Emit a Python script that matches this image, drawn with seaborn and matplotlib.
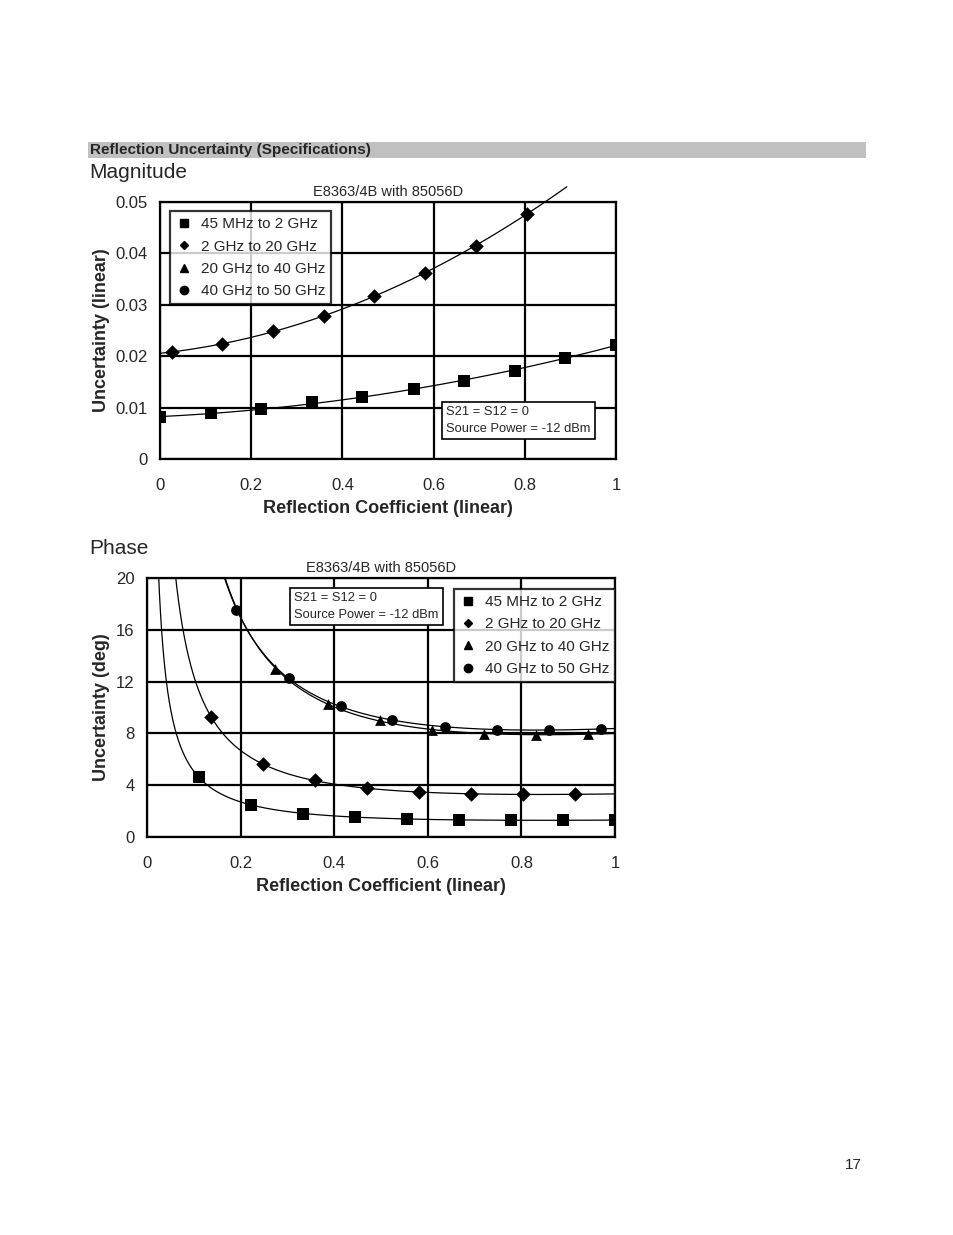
import numpy as np
import pandas as pd
import matplotlib
matplotlib.use("Agg")
import matplotlib.pyplot as plt
from matplotlib.patches import Rectangle
from matplotlib.lines import Line2D
import seaborn as sns

# ---------------- data ----------------
series_labels = ["45 MHz to 2 GHz", "2 GHz to 20 GHz", "20 GHz to 40 GHz", "40 GHz to 50 GHz"]
series_markers = ["s", "D", "^", "o"]

# Magnitude chart
mag_x_sq = [0.0, 0.111, 0.222, 0.333, 0.444, 0.556, 0.667, 0.778, 0.889, 1.0]
mag_y_sq = [0.0081, 0.0089, 0.0097, 0.0110, 0.0121, 0.0136, 0.0151, 0.0172, 0.0197, 0.0222]
mag_x_di = [0.026, 0.137, 0.248, 0.359, 0.470, 0.581, 0.693, 0.804]
mag_y_di = [0.0208, 0.0224, 0.0249, 0.0278, 0.0317, 0.0362, 0.0415, 0.0477]

# Phase chart
ph_x_sq = [0.111, 0.222, 0.333, 0.444, 0.556, 0.667, 0.778, 0.889, 1.0]
ph_y_sq = [4.6, 2.5, 1.8, 1.55, 1.4, 1.3, 1.3, 1.3, 1.3]
ph_x_di = [0.136, 0.248, 0.359, 0.470, 0.581, 0.693, 0.804, 0.915]
ph_y_di = [9.3, 5.6, 4.4, 3.8, 3.45, 3.3, 3.3, 3.3]
ph_x_tr = [0.274, 0.386, 0.497, 0.609, 0.720, 0.831, 0.943]
ph_y_tr = [13.0, 10.3, 9.0, 8.3, 7.95, 7.9, 7.95]
ph_x_ci = [0.191, 0.304, 0.414, 0.524, 0.636, 0.747, 0.859, 0.970]
ph_y_ci = [17.5, 12.3, 10.1, 9.0, 8.5, 8.3, 8.25, 8.35]

x_ticks = [0, 0.2, 0.4, 0.6, 0.8, 1]
x_ticklabels = ["0", "0.2", "0.4", "0.6", "0.8", "1"]
mag_ticks = [0, 0.01, 0.02, 0.03, 0.04, 0.05]
mag_ticklabels = ["0", "0.01", "0.02", "0.03", "0.04", "0.05"]
ph_ticks = [0, 4, 8, 12, 16, 20]
ph_ticklabels = ["0", "4", "8", "12", "16", "20"]

chart_title = "E8363/4B with 85056D"
note_text = "S21 = S12 = 0\nSource Power = -12 dBm"

# ---------------- style ----------------
sns.set_theme(style="white")
plt.rcParams["font.family"] = ["Liberation Sans", "DejaVu Sans"]
plt.rcParams["axes.edgecolor"] = "black"
plt.rcParams["axes.linewidth"] = 1.6

fig = plt.figure(figsize=(9.54, 12.35), dpi=100)
W, H = 954, 1235


def fig_axes(left, top, right, bottom):
    return fig.add_axes([left / W, 1 - bottom / H, (right - left) / W, (bottom - top) / H])


ax1 = fig_axes(160, 202, 616, 459)
ax2 = fig_axes(147, 578, 615, 837)

msizes = {"s": 75, "D": 55, "^": 60, "o": 60}


def scatter(ax, xs, ys, m):
    df = pd.DataFrame({"x": xs, "y": ys})
    sns.scatterplot(data=df, x="x", y="y", ax=ax, marker=m, color="black",
                    s=msizes[m], edgecolor="black", linewidth=0, zorder=4, legend=False)


# ---- magnitude chart ----
xx = np.linspace(0, 1, 400)
for xs, ys, m, extend in [(mag_x_sq, mag_y_sq, "s", False), (mag_x_di, mag_y_di, "D", True)]:
    c = np.polyfit(xs, ys, 2)
    yy = np.polyval(c, xx)
    keep = yy <= 0.053
    ax1.plot(xx[keep], yy[keep], color="black", lw=0.9, zorder=3, clip_on=not extend)
    scatter(ax1, xs, ys, m)

# ---- phase chart: fit x*sin(phase) as quadratic in x ----
xx2 = np.linspace(0.004, 1, 800)
for xs, ys, m in [(ph_x_sq, ph_y_sq, "s"), (ph_x_di, ph_y_di, "D"),
                  (ph_x_tr, ph_y_tr, "^"), (ph_x_ci, ph_y_ci, "o")]:
    xs_a = np.array(xs)
    c = np.polyfit(xs_a, xs_a * np.sin(np.radians(ys)), 2)
    r = np.clip(np.polyval(c, xx2) / xx2, -1, 1)
    yy = np.degrees(np.arcsin(r))
    ax2.plot(xx2, yy, color="black", lw=0.9, zorder=3)
    scatter(ax2, xs, ys, m)

tick_font = dict(fontsize=12)
for ax, yt, ytl, ylim, ylabel in [(ax1, mag_ticks, mag_ticklabels, (0, 0.05), "Uncertainty (linear)"),
                                  (ax2, ph_ticks, ph_ticklabels, (0, 20), "Uncertainty (deg)")]:
    ax.set_xlim(0, 1)
    ax.set_ylim(*ylim)
    ax.set_xticks(x_ticks)
    ax.set_xticklabels(x_ticklabels, **tick_font)
    ax.set_yticks(yt)
    ax.set_yticklabels(ytl, **tick_font)
    ax.tick_params(axis="y", length=0, pad=9)
    ax.tick_params(axis="x", length=0, pad=14)
    ax.grid(True, color="black", lw=1.6)
    ax.set_axisbelow(True)
    ax.set_xlabel("Reflection Coefficient (linear)", fontsize=13, fontweight="bold", labelpad=5)
    ax.set_ylabel(ylabel, fontsize=13, fontweight="bold", labelpad=4)
    ax.set_title(chart_title, fontsize=10.5, pad=4)
    for s in ax.spines.values():
        s.set_visible(True)
        s.set_color("black")

handles = [Line2D([], [], ls="none", marker=m, color="black", markersize=6 if m != "D" else 4.5)
           for m in series_markers]

leg_kw = dict(borderaxespad=0, frameon=True, fancybox=False, edgecolor="black",
              fontsize=11, handlelength=1.0, handletextpad=0.6, labelspacing=0.55,
              borderpad=0.4)
leg1 = ax1.legend(handles, series_labels, loc="upper left", bbox_to_anchor=(0.022, 0.965), **leg_kw)
leg1.get_frame().set_linewidth(1.6)
leg1.set_zorder(6)

leg2 = ax2.legend(handles, series_labels, loc="upper right", bbox_to_anchor=(1.0, 0.958), **leg_kw)
leg2.get_frame().set_linewidth(1.6)
leg2.set_zorder(6)

box = dict(boxstyle="square,pad=0.35", facecolor="white", edgecolor="black", linewidth=1.2)
ax1.text(0.628, 0.205, note_text, transform=ax1.transAxes, fontsize=9.3, va="top", ha="left",
         linespacing=1.5, bbox=box, zorder=6)
ax2.text(0.315, 0.945, note_text, transform=ax2.transAxes, fontsize=9.3, va="top", ha="left",
         linespacing=1.5, bbox=box, zorder=6)

# ---- page decorations ----
fig.patches.append(Rectangle((88 / W, 1 - 158 / H), 778 / W, 16 / H, transform=fig.transFigure,
                             facecolor="#c0c0c0", edgecolor="none", zorder=0))
fig.text(90 / W, 1 - 150 / H, "Reflection Uncertainty (Specifications)", fontsize=11,
         fontweight="bold", va="center", ha="left")
fig.text(89 / W, 1 - 172 / H, "Magnitude", fontsize=15, va="center", ha="left")
fig.text(89 / W, 1 - 549 / H, "Phase", fontsize=15, va="center", ha="left")
fig.text(862 / W, 1 - 1165 / H, "17", fontsize=11, va="center", ha="right")

fig.savefig("out.png", dpi=100, facecolor="white")
